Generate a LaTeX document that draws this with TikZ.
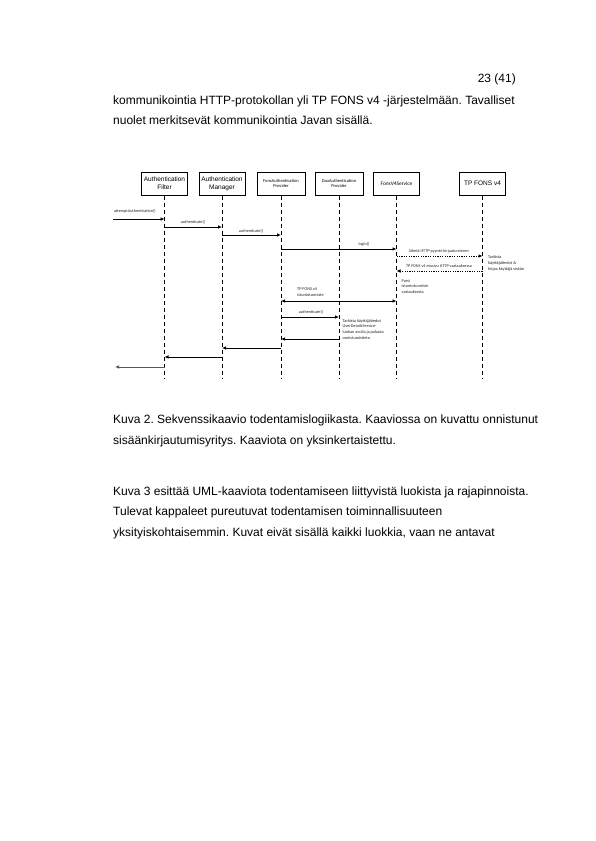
\documentclass[tikz,border=0pt]{standalone}
\usepackage{fontspec}
\setmainfont{Liberation Sans}
\newfontfamily\smallf{Carlito}
\usetikzlibrary{arrows.meta}
\frenchspacing
\tikzset{
  body/.style={anchor=base west,inner sep=0,font=\fontsize{12}{14}\selectfont},
  actor/.style={draw,line width=1pt,minimum width=46pt,minimum height=23pt,inner sep=0,align=center},
  bigl/.style={font=\fontsize{6.5}{7.7}\selectfont},
  tinyl/.style={font=\smallf\fontsize{4.5}{4.4}\selectfont},
  lifeline/.style={line width=1pt,dash pattern=on 4pt off 3pt},
  msg/.style={line width=1pt,-{Latex[length=4pt,width=3.6pt]}},
  dmsg/.style={line width=0.9pt,dash pattern=on 1.2pt off 1.2pt,-{Latex[length=4pt,width=3.6pt]}},
  mlabel/.style={inner sep=0,text=black!85,font=\smallf\fontsize{4.2}{5.7}\selectfont},
  note/.style={inner sep=0,anchor=north west,align=left,text=black!85,font=\smallf\fontsize{4.3}{5.7}\selectfont}
}
\begin{document}
\begin{tikzpicture}[x=1pt,y=-1pt]
\useasboundingbox[fill=white] (0,0) rectangle (595,841);

% page text
\node[anchor=base east,inner sep=0,font=\fontsize{12}{14}\selectfont] (pg) at (516,82) {23 (41)};
\node[body] (t1) at (113,104) {kommunikointia HTTP-protokollan yli TP FONS v4 -järjestelmään. Tavalliset};
\node[body] (t2) at (113,124) {nuolet merkitsevät kommunikointia Javan sisällä.};

\node[body] (c1) at (113,423) {Kuva 2. Sekvenssikaavio todentamislogiikasta. Kaaviossa on kuvattu onnistunut};
\node[body] (c2) at (113,444) {sisäänkirjautumisyritys. Kaaviota on yksinkertaistettu.};

\node[body] (p1) at (113,495) {Kuva 3 esittää UML-kaaviota todentamiseen liittyvistä luokista ja rajapinnoista.};
\node[body] (p2) at (113,515) {Tulevat kappaleet pureutuvat todentamisen toiminnallisuuteen};
\node[body] (p3) at (113,536) {yksityiskohtaisemmin. Kuvat eivät sisällä kaikki luokkia, vaan ne antavat};

% actors
\node[actor,bigl] (F) at (164.5,183.5) {Authentication\\Filter};
\node[actor,bigl] (M) at (222,183.5) {Authentication\\Manager};
\node[actor,tinyl,minimum width=48pt] (P) at (281,183.5) {FonsAuthentication\\Provider};
\node[actor,tinyl,minimum width=48pt] (D) at (339,183.5) {DaoAuthentication\\Provider};
\node[actor,font=\smallf\fontsize{5.4}{6}\selectfont] (S) at (396.5,183.5) {FonsV4Service};
\node[actor,bigl] (T) at (482.5,183.5) {TP FONS v4};

% lifeline ends
\coordinate (bot) at (0,378);
\foreach \a in {F,M,P,D,S,T} {
  \draw[lifeline] (\a.south) -- (\a |- bot);
}

% message rows
\coordinate (y1) at (0,219);
\coordinate (y2) at (0,227);
\coordinate (y3) at (0,235);
\coordinate (y4) at (0,249);
\coordinate (y5) at (0,256);
\coordinate (y6) at (0,271);
\coordinate (y7) at (0,301);
\coordinate (y8) at (0,317);
\coordinate (y9) at (0,339);
\coordinate (y10) at (0,348);
\coordinate (y11) at (0,357);
\coordinate (in) at (113,219);
\coordinate (out) at (115,367);

\draw[msg] (in) -- (F |- y1);
\node[mlabel,anchor=west] (l1) at (114,211) {attemptAuthentication()};

\draw[msg] (F |- y2) -- (M |- y2);
\node[mlabel] (l2) at (193,222.5) {authenticate()};

\draw[msg] (M |- y3) -- (P |- y3);
\node[mlabel] (l3) at (251,231) {authenticate()};

\draw[msg] (P |- y4) -- (S |- y4);
\node[mlabel] (l4) at (364,244) {login()};

\draw[dmsg] (S |- y5) -- (T |- y5);
\node[mlabel] (l5) at (439,251) {lähetä HTTP-pyyntö kirjautumiseen};

\node[note] (n1) at (488,255.5) {Tarkista\\käyttäjätiedot \&\\kirjaa käyttäjä sisään};

\draw[dmsg] (T |- y6) -- (S |- y6);
\node[mlabel] (l6) at (439,266) {TP FONS v4 etusivu HTTP-vastauksessa};

\node[note] (n2) at (401.5,279) {Parsi\\istuntotunniste\\vastauksesta};

\draw[line width=1pt,{Latex[length=4pt,width=3.6pt]}-{Latex[length=4pt,width=3.6pt]}] (P |- y7) -- (S |- y7);
\node[note] (l7) at (297,288) {TP FONS v4\\istuntotunniste};

\draw[msg] (P |- y8) -- (D |- y8);
\node[mlabel] (l8) at (311,312.5) {authenticate()};

\node[note] (n3) at (342.5,319) {Tarkista käyttäjätiedot\\UserDetailsService-\\luokan avulla ja palauta\\onnistumistieto};

\draw[msg] (D |- y9) -- (P |- y9);
\draw[msg] (P |- y10) -- (M |- y10);
\draw[msg] (M |- y11) -- (F |- y11);
\draw[msg,black!65] (F |- out) -- (out);
\end{tikzpicture}
\end{document}
